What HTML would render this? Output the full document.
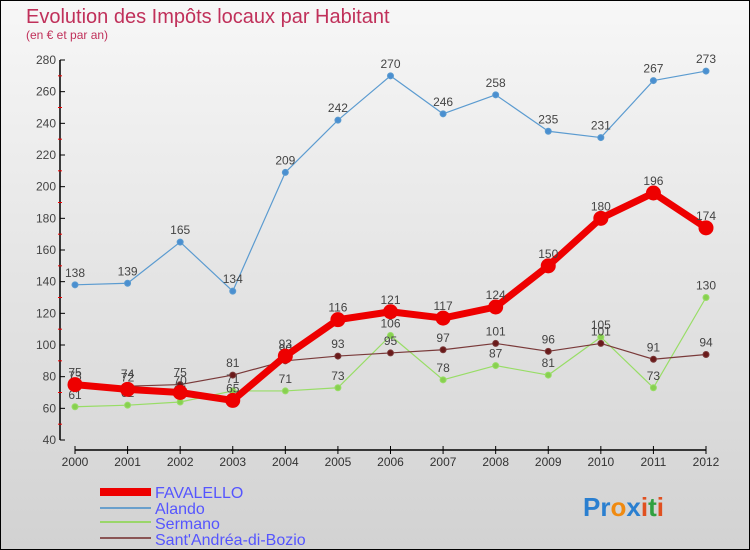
<!DOCTYPE html>
<html><head><meta charset="utf-8"><style>
body{margin:0}
svg{display:block;font-family:"Liberation Sans",sans-serif}
</style></head><body>
<svg id="c" width="750" height="550" xmlns="http://www.w3.org/2000/svg">
<defs><linearGradient id="bg" x1="0" y1="0" x2="0" y2="1"><stop offset="0" stop-color="#f7f7f7"/><stop offset="1" stop-color="#d2d2d2"/></linearGradient></defs>
<rect x="0.5" y="0.5" width="749" height="549" fill="url(#bg)" stroke="#000"/>
<text x="26" y="23" font-size="20" fill="#c0305a">Evolution des Impôts locaux par Habitant</text>
<text x="26" y="39" font-size="12" fill="#c0305a">(en € et par an)</text>
<g id="axes"></g><g id="series"></g>
<g>
<rect x="100" y="488" width="51" height="8" fill="#ee0000"/>
<text x="155" y="498" font-size="16" fill="#5555ff">FAVALELLO</text>
<rect x="100" y="507" width="51" height="2" fill="#6aa0cc"/>
<text x="155" y="514" font-size="16" fill="#5555ff">Alando</text>
<rect x="100" y="521" width="51" height="2" fill="#9ad66a"/>
<text x="155" y="529" font-size="16" fill="#5555ff">Sermano</text>
<rect x="100" y="537" width="51" height="2" fill="#8a5555"/>
<text x="155" y="545" font-size="16" fill="#5555ff">Sant'Andréa-di-Bozio</text>
</g>
<text x="583" y="516" font-size="26" font-weight="bold"><tspan fill="#2a7fd0">Pr</tspan><tspan fill="#f08a10">o</tspan><tspan fill="#2a7fd0">x</tspan><tspan fill="#e05020">i</tspan><tspan fill="#30a040">t</tspan><tspan fill="#e05020">i</tspan></text>
</svg>
<script>
const years=[2000,2001,2002,2003,2004,2005,2006,2007,2008,2009,2010,2011,2012];
const favalello=[75,72,70,65,93,116,121,117,124,150,180,196,174];
const alando=[138,139,165,134,209,242,270,246,258,235,231,267,273];
const sermano=[61,62,64,71,71,73,106,78,87,81,105,73,130];
const santandrea=[73,74,75,81,90,93,95,97,101,96,101,91,94];
const yTicks=[40,60,80,100,120,140,160,180,200,220,240,260,280];
const NS="http://www.w3.org/2000/svg";
const X=i=>75+i*(706-75)/(years.length-1);
const Y=v=>440-(v-40)*(380/240);
function mk(t,a,p){const e=document.createElementNS(NS,t);for(const k in a)e.setAttribute(k,a[k]);p.appendChild(e);return e;}
const ax=document.getElementById('axes');
let l=mk('line',{x1:60,y1:60,x2:60,y2:440,stroke:'#000','stroke-width':1.5},ax);


yTicks.forEach((v,i)=>{
 let t=mk('line',{x1:60,y1:Y(v),x2:65,y2:Y(v),stroke:'#000'},ax);
 
 
 let tx=mk('text',{x:56,y:Y(v)+4,'font-size':12,'text-anchor':'end',fill:'#444'},ax);tx.textContent=v;
 
 
 if(i<yTicks.length-1){let m=mk('line',{x1:58,y1:Y(v+10),x2:62,y2:Y(v+10),stroke:'#e00'},ax);
 
 }
});
l=mk('line',{x1:75,y1:450,x2:706,y2:450,stroke:'#000','stroke-width':1.5},ax);


years.forEach((y,i)=>{
 let t=mk('line',{x1:X(i),y1:446,x2:X(i),y2:454,stroke:'#000'},ax);
 
 
 let tx=mk('text',{x:X(i),y:466,'font-size':12,'text-anchor':'middle',fill:'#333'},ax);tx.textContent=y;
 
 
});
const sg=document.getElementById('series');
function draw(vals,color,w,r,dot,name){
 const g=mk('g',{},sg);
 
 
 let p=mk('polyline',{points:vals.map((v,i)=>X(i)+','+Y(v)).join(' '),fill:'none',stroke:color,'stroke-width':w,'stroke-linejoin':'round'},g);
 
 
 vals.forEach((v,i)=>{
  let c=mk('circle',{cx:X(i),cy:Y(v),r:r,fill:dot,stroke:color,'stroke-width':1},g);
  
  
  let tx=mk('text',{x:X(i),y:Y(v)-8,'font-size':12,'text-anchor':'middle',fill:'#444'},g);tx.textContent=v;
  
  
 });
}
draw(alando,'#5b9bd0',1.2,3,'#4a8fd0','alando');
draw(sermano,'#98dd66',1.2,3,'#88d050','sermano');
draw(santandrea,'#7a3a3a',1.2,3,'#6a1a1a','santandrea');
draw(favalello,'#ee0000',7,7,'#ee0000','favalello');
</script>
</body></html>
